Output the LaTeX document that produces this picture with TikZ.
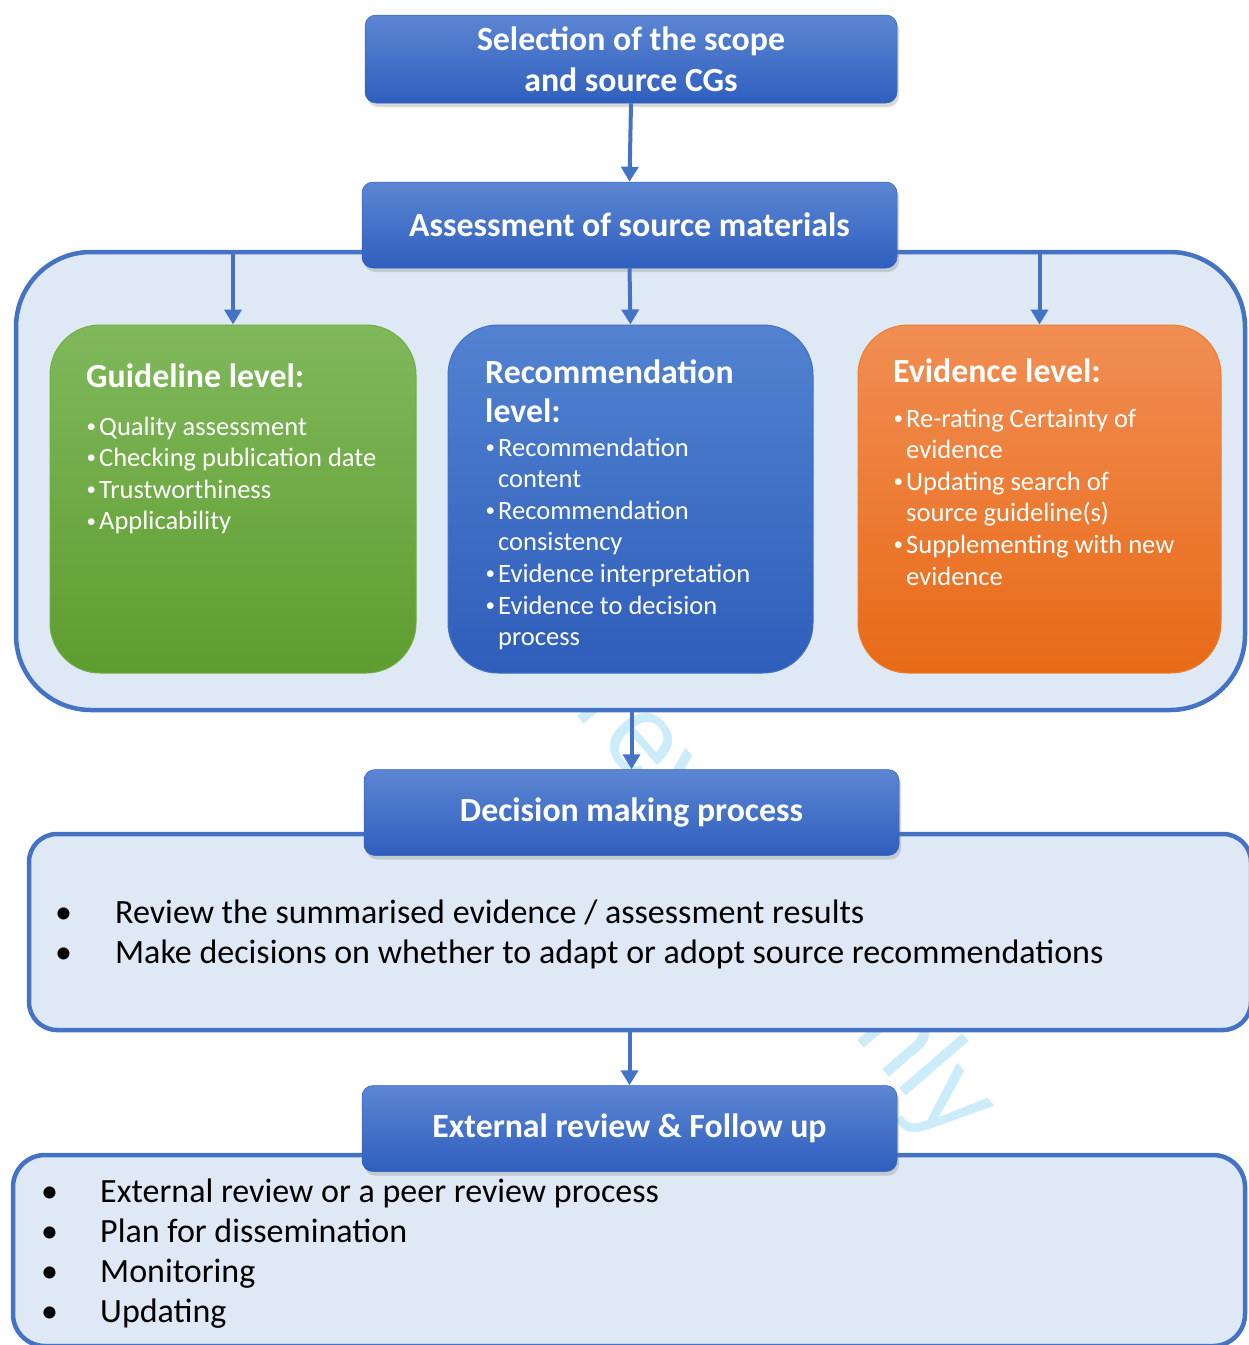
\documentclass[tikz,border=0pt]{standalone}
\usepackage{fontspec}
\setmainfont{Carlito}
\newfontfamily\wmfont{Liberation Sans}
\usetikzlibrary{arrows.meta,shadows,calc}
\definecolor{cblue}{RGB}{68,114,196}
\definecolor{cfill}{RGB}{222,233,245}
\definecolor{hTop}{RGB}{92,134,211}
\definecolor{hBot}{RGB}{47,95,190}
\definecolor{gTop}{RGB}{128,184,92}
\definecolor{gBot}{RGB}{94,157,47}
\definecolor{gEdge}{RGB}{112,173,71}
\definecolor{bTop}{RGB}{82,130,208}
\definecolor{bBot}{RGB}{46,94,186}
\definecolor{bEdge}{RGB}{68,114,196}
\definecolor{oTop}{RGB}{241,142,84}
\definecolor{oBot}{RGB}{232,106,22}
\definecolor{oEdge}{RGB}{237,125,49}
\definecolor{wm}{RGB}{205,236,250}
\newcommand{\lbul}{\makebox[13pt][l]{\hspace{0.5pt}\raisebox{2.8pt}{\fontsize{19}{19}\selectfont •}}}
\newcommand{\bbul}[1]{\makebox[#1][l]{•}}
\begin{document}
\begin{tikzpicture}[x=1pt,y=-1pt,
  hdr/.style={rounded corners=11pt, top color=hTop, bottom color=hBot, draw=hBot, line width=0.5pt,
    text=white, inner sep=0pt, font=\fontsize{33.8}{41}\selectfont\bfseries, align=center,
    minimum width=535pt, minimum height=86pt,
    drop shadow={shadow xshift=2pt, shadow yshift=-4pt, opacity=0.3}},
  cont/.style={draw=cblue, line width=4.5pt, fill=cfill, inner sep=0pt},
  lvl/.style={rounded corners=50pt, minimum height=348pt, inner sep=0pt, line width=1pt},
  lvlhead/.style={text=white, font=\fontsize{33.8}{39}\selectfont\bfseries, inner sep=0pt, anchor=base west},
  lvltxt/.style={text=white, font=\fontsize{26.5}{31.6}\selectfont, inner sep=0pt, anchor=base west},
  bigtxt/.style={text=black, font=\fontsize{34}{40}\selectfont, inner sep=0pt, anchor=base west},
  arr/.style={draw=cblue, line width=4pt, -{Triangle[width=17pt,length=15pt]}},
]
\path[use as bounding box] (0,0) rectangle (1249,1345);
\clip (0,0) rectangle (1249,1345);

% watermark
\node[text=wm, font=\wmfont\fontsize{115}{115}\selectfont, inner sep=0pt, anchor=base west, rotate=-49.2] (wmark) at (268,357) {For peer review only};

% containers
\node[cont, rounded corners=75pt, minimum width=1229pt, minimum height=458pt] (big) at (630.5,481) {};
\node[cont, rounded corners=28pt, minimum width=1222pt, minimum height=196pt] (deccont) at (640,932) {};
\node[cont, rounded corners=32pt, minimum width=1232pt, minimum height=191pt] (extcont) at (629,1250.5) {};

% level boxes
\node[lvl, top color=gTop, bottom color=gBot, draw=gEdge, minimum width=366pt] (green) at (233,499) {};
\node[lvl, top color=bTop, bottom color=bBot, draw=bEdge, minimum width=365pt] (blue) at (630.5,499) {};
\node[lvl, top color=oTop, bottom color=oBot, draw=oEdge, minimum width=363pt] (orange) at (1039.5,499) {};

% header boxes
\node[hdr, minimum width=532pt, minimum height=88pt] (top) at (631,59) {Selection of the scope\\and source CGs};
\node[hdr] (assess) at (629.5,225) {Assessment of source materials};
\node[hdr] (dec) at (631.5,812.5) {Decision making process};
\node[hdr] (ext) at (629.5,1128.5) {External review \& Follow up};

% level texts
\node[lvlhead] (gh) at (86,387) {Guideline level:};
\node[lvltxt] (gt) at (86,435) {\begin{tabular}[t]{@{}l@{}}\lbul Quality assessment\\ \lbul Checking publication date\\ \lbul Trustworthiness\\ \lbul Applicability\end{tabular}};

\node[lvlhead] (bh) at (485,383) {\begin{tabular}[t]{@{}l@{}}Recommendation\\level:\end{tabular}};
\node[lvltxt] (bt) at (485,456) {\begin{tabular}[t]{@{}l@{}}\lbul Recommendation\\ \hspace*{13pt}content\\ \lbul Recommendation\\ \hspace*{13pt}consistency\\ \lbul Evidence interpretation\\ \lbul Evidence to decision\\ \hspace*{13pt}process\end{tabular}};

\node[lvlhead] (oh) at (893,382) {Evidence level:};
\node[lvltxt] (ot) at (893,427) {\begin{tabular}[t]{@{}l@{}}\lbul Re-rating Certainty of\\ \hspace*{13pt}evidence\\ \lbul Updating search of\\ \hspace*{13pt}source guideline(s)\\ \lbul Supplementing with new\\ \hspace*{13pt}evidence\end{tabular}};

% decision text
\node[bigtxt] (dt) at (55,923) {\begin{tabular}[t]{@{}l@{}}\bbul{60pt}Review the summarised evidence / assessment results\\ \bbul{60pt}Make decisions on whether to adapt or adopt source recommendations\end{tabular}};

% external text
\node[bigtxt] (et) at (41,1202) {\begin{tabular}[t]{@{}l@{}}\bbul{59pt}External review or a peer review process\\ \bbul{59pt}Plan for dissemination\\ \bbul{59pt}Monitoring\\ \bbul{59pt}Updating\end{tabular}};

% arrows
\draw[arr] (top.south) -- (assess.north);
\draw[arr] (green.north |- big.north) -- (green.north);
\draw[arr] (assess.south) -- (blue.north);
\draw[arr] (orange.north |- big.north) -- (orange.north);
\draw[arr] (dec.north |- big.south) -- (dec.north);
\draw[arr] (ext.north |- deccont.south) -- (ext.north);
\end{tikzpicture}
\end{document}
